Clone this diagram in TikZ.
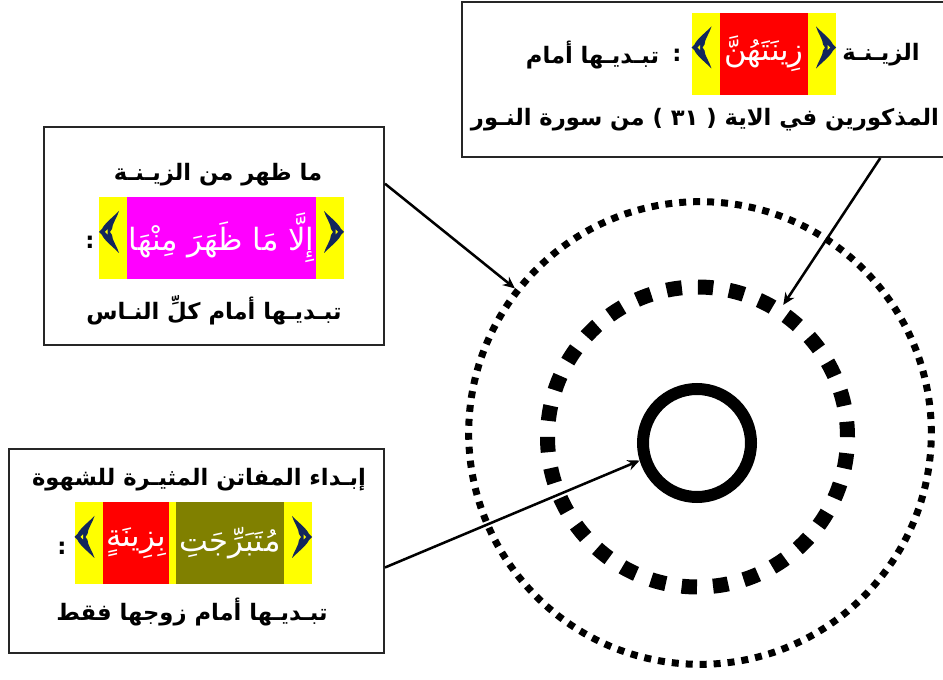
\documentclass[tikz,border=0pt]{standalone}
\usepackage{fontspec}
\usetikzlibrary{arrows.meta}
\newfontfamily\arabicfont[Script=Arabic]{DejaVu Sans}
\TeXXeTstate=1
\definecolor{bracketblue}{RGB}{18,38,92}
\definecolor{olivebox}{RGB}{128,128,0}
\definecolor{pureyellow}{RGB}{255,255,0}
\definecolor{purered}{RGB}{255,0,0}
\definecolor{puremagenta}{RGB}{255,0,255}

\tikzset{
  textbox/.style={rectangle, draw=black!85, line width=1.5pt, inner sep=0pt},
  line/.style={inner sep=0pt, font=\arabicfont\bfseries\fontsize{17}{20}\selectfont},
  wordbox/.style={inner sep=0pt, minimum height=61.5pt, text=white,
    font=\arabicfont\fontsize{23}{26}\selectfont},
  bracketbox/.style={inner sep=0pt, fill=pureyellow, minimum width=21pt, minimum height=61.5pt},
  ring/.style={circle, draw=black, inner sep=0pt},
  pointer/.style={line width=1.9pt, -{Stealth[length=9pt,width=8pt]}},
  % ornate bracket, point on the left
  ornament/.pic={
    \fill[bracketblue] (6,-21) .. controls (0,-15) and (-9,-8) .. (-11,-3)
      -- (-14,0) -- (-11,3)
      .. controls (-9,8) and (0,15) .. (6,21)
      .. controls (4,14) and (-1,8) .. (-1,3)
      -- (-3,0) -- (-1,-3)
      .. controls (-1,-8) and (4,-14) .. (6,-21) -- cycle;
    \fill[pureyellow] (-8,0) -- (-5.5,-2.5) -- (-5.5,2.5) -- cycle;
  }
}

\begin{document}
\begin{tikzpicture}[x=0.75pt,y=-0.75pt]
    \useasboundingbox (0,0) rectangle (943,680);

    % the three rings
    \node[ring, line width=5.25pt, dash pattern=on 5.25pt off 5.23pt, minimum size=347pt] (outer) at (700,433) {};
    \node[ring, line width=11.25pt, dash pattern=on 11.5pt off 12.06pt, minimum size=225pt] (middle) at (697.5,437) {};
    \node[ring, line width=9pt, minimum size=81pt] (inner) at (697,443) {};

    % top box
    \node[textbox, minimum width=363pt, minimum height=116.25pt] (topbox) at (704,79.5) {};
    \node[line] (topzina) at (881,55) {\beginR الزيـنـة\endR};
    \node[bracketbox] (topright) at (822,54) {};
    \node[wordbox, fill=purered, minimum width=66pt] (topword) at (764,54) {زِينَتَهُنَّ};
    \node[bracketbox] (topleft) at (705.5,54) {};
    \pic at (705.5,47.5) {ornament};
    \pic[xscale=-1] at (822,47.5) {ornament};
    \node[line] (topcolon) at (677,55) {:};
    \node[line] (topshow) at (592.5,55) {\beginR تبـديـها أمام\endR};
    \node[line] (topverse) at (705,120) {\beginR المذكورين في الاية ( ٣١ ) من سورة النـور\endR};

    % left box
    \node[textbox, minimum width=255pt, minimum height=163.5pt] (leftbox) at (214,236) {};
    \node[line] (lefttitle) at (218,175) {\beginR ما ظهر من الزيـنـة\endR};
    \node[bracketbox] (leftright) at (330,238) {};
    \node[wordbox, fill=puremagenta, minimum width=141.75pt] (leftword) at (221.5,238) {\beginR إِلَّا مَا ظَهَرَ مِنْهَا\endR};
    \node[bracketbox] (leftleft) at (113,238) {};
    \pic at (113,232) {ornament};
    \pic[xscale=-1] at (330,232) {ornament};
    \node[line] (leftcolon) at (90,242) {:};
    \node[line] (leftshow) at (214,310) {\beginR تبـديـها  أمام كلِّ النـاس\endR};

    % bottom box
    \node[textbox, minimum width=281.25pt, minimum height=153pt] (bottombox) at (196.5,551) {};
    \node[line] (bottomtitle) at (199,480) {\beginR إبـداء المفاتن المثيـرة للشهوة\endR};
    \node[bracketbox] (bottomright) at (298,543) {};
    \node[wordbox, fill=olivebox, minimum width=81pt] (bottomword) at (230,543) {مُتَبَرِّجَتِ};
    \node[inner sep=0pt, fill=pureyellow, minimum width=5.25pt, minimum height=61.5pt] (bottomgap) at (172.5,543) {};
    \node[wordbox, fill=purered, minimum width=49.5pt] (bottomzina) at (136,543) {بِزِينَةٍ};
    \node[bracketbox] (bottomleft) at (88.5,543) {};
    \pic at (88.5,537) {ornament};
    \pic[xscale=-1] at (298,537) {ornament};
    \node[line] (bottomcolon) at (62,548) {:};
    \node[line] (bottomshow) at (192,612) {\beginR تبـديـها أمام زوجها فقط\endR};

    % pointers
    \draw[pointer] (leftbox.17.3) -- (outer.142);
    \draw[pointer] (topbox.-24.4) -- (middle.57);
    \draw[pointer] (bottombox.-5.2) -- (inner.197);
\end{tikzpicture}
\end{document}
